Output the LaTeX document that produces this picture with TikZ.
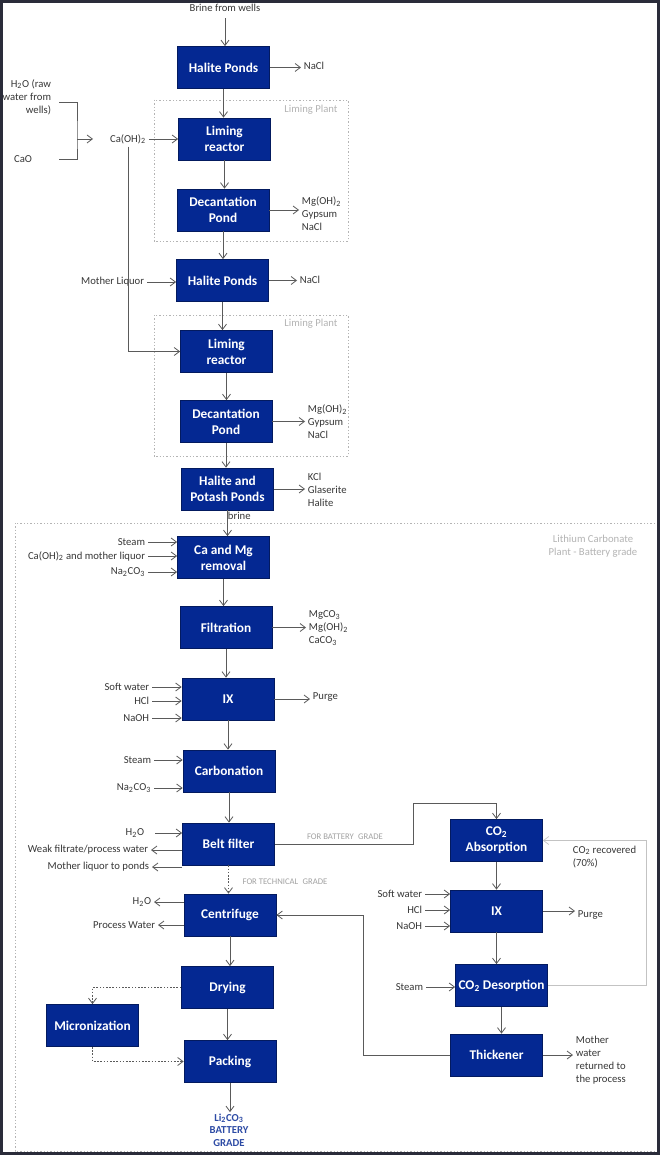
\documentclass[tikz,border=0pt]{standalone}
\usepackage{fontspec}
\setmainfont{Carlito}
\usetikzlibrary{arrows.meta}

\definecolor{unitblue}{RGB}{4,40,146}
\definecolor{linegray}{RGB}{90,90,90}
\definecolor{textgray}{RGB}{55,55,55}
\definecolor{plantgray}{RGB}{180,180,180}
\definecolor{framedark}{RGB}{42,44,58}
\definecolor{gradeblue}{RGB}{45,75,165}
\newcommand{\chemsub}[1]{\textsubscript{#1}}

\begin{document}
\begin{tikzpicture}[x=0.75pt,y=-0.75pt,>={Straight Barb[length=4pt,width=6pt]},
  unit/.style={draw=unitblue!65!black,fill=unitblue,text=white,line width=0.6pt,
    font=\fontsize{10}{12}\selectfont\bfseries,align=center,
    minimum width=69pt,minimum height=31.5pt,inner sep=1pt},
  lbl/.style={text=textgray,font=\fontsize{8}{9.75}\selectfont,inner sep=2pt},
  note/.style={text=plantgray,font=\fontsize{8}{9.75}\selectfont,inner sep=0pt},
  grade/.style={text=plantgray!90!black,font=\fontsize{6.5}{8}\selectfont,inner sep=0pt},
  flow/.style={->,draw=linegray,line width=0.6pt},
  streams/.style={every edge/.style={draw,flow}},
  techflow/.style={flow,dash pattern=on 1.2pt off 1.2pt},
  loopflow/.style={->,draw=plantgray!80,line width=0.5pt},
  plant/.style={draw=plantgray,line width=0.5pt,dash pattern=on 1pt off 1.5pt}]

  \useasboundingbox (0,0) rectangle (660,1155);
  \fill[white] (0,0) rectangle (660,1155);

  % plant frames
  \draw[plant] (154,100) rectangle (348,241);
  \draw[plant] (154,315) rectangle (348,456);
  \draw[plant] (15,523) rectangle (657,1151);
  \node[note] (limplantA) at (311,110) {Liming Plant};
  \node[note] (limplantB) at (311,324) {Liming Plant};
  \node[note,align=center] (licoplant) at (593,546) {Lithium Carbonate\\Plant - Battery grade};

  % main column
  \node[unit] (haliteA) at (223.5,67.5) {Halite Ponds};
  \node[unit] (limingA) at (224.5,139) {Liming\\reactor};
  \node[unit] (decantA) at (223,210) {Decantation\\Pond};
  \node[unit] (haliteB) at (222.5,280.5) {Halite Ponds};
  \node[unit] (limingB) at (226.5,351.5) {Liming\\reactor};
  \node[unit] (decantB) at (226,421.5) {Decantation\\Pond};
  \node[unit] (potash) at (227.5,489) {Halite and\\Potash Ponds};
  \node[unit] (camg) at (223.5,557.5) {Ca and Mg\\removal};
  \node[unit] (filtr) at (226,627.5) {Filtration};
  \node[unit] (ixA) at (228,699) {IX};
  \node[unit] (carbon) at (229,771) {Carbonation};
  \node[unit] (belt) at (228.5,844) {Belt filter};
  \node[unit] (centr) at (230,915) {Centrifuge};
  \node[unit] (dry) at (227.5,987.5) {Drying};
  \node[unit] (micro) at (92.5,1025.5) {Micronization};
  \node[unit] (pack) at (230,1061.5) {Packing};

  % battery grade column
  \node[unit] (absorb) at (496.5,840.5) {CO\chemsub{2}\\Absorption};
  \node[unit] (ixB) at (496.5,911) {IX};
  \node[unit] (desorb) at (501.5,985.5) {CO\chemsub{2} Desorption};
  \node[unit] (thick) at (496.5,1055) {Thickener};

  % streams in and out
  \node[lbl] (wells) at (225,7.5) {Brine from wells};
  \node[lbl,anchor=west] (naclA) at (301,66) {NaCl};
  \node[lbl,anchor=east,align=right] (rawwater) at (54,97) {H\chemsub{2}O (raw\\water from\\wells)};
  \node[lbl] (cao) at (23,159) {CaO};
  \node[lbl] (caoh) at (128,139) {Ca(OH)\chemsub{2}};
  \node[lbl,anchor=west,align=left] (residA) at (299,214) {Mg(OH)\chemsub{2}\\Gypsum\\NaCl};
  \node[lbl,anchor=east] (mliq) at (147,282) {Mother Liquor};
  \node[lbl,anchor=west] (naclB) at (297,280) {NaCl};
  \node[lbl,anchor=west,align=left] (residB) at (305,422) {Mg(OH)\chemsub{2}\\Gypsum\\NaCl};
  \node[lbl,anchor=west,align=left] (salts) at (305,489.5) {KCl\\Glaserite\\Halite};
  \node[lbl,anchor=west] (brinelbl) at (225,516) {brine};

  \node[lbl,anchor=east] (steamA) at (148,542) {Steam};
  \node[lbl,anchor=east] (mixA) at (148,556) {Ca(OH)\chemsub{2} and mother liquor};
  \node[lbl,anchor=east] (sodaA) at (148,572) {Na\chemsub{2}CO\chemsub{3}};
  \node[lbl,anchor=west,align=left] (cake) at (306,628) {MgCO\chemsub{3}\\Mg(OH)\chemsub{2}\\CaCO\chemsub{3}};
  \node[lbl,anchor=east] (softA) at (152,687) {Soft water};
  \node[lbl,anchor=east] (hclA) at (152,701) {HCl};
  \node[lbl,anchor=east] (naohA) at (152,718) {NaOH};
  \node[lbl,anchor=west] (purgeA) at (310,697) {Purge};
  \node[lbl,anchor=east] (steamB) at (154,760) {Steam};
  \node[lbl,anchor=east] (sodaB) at (154,788) {Na\chemsub{2}CO\chemsub{3}};
  \node[lbl,anchor=east] (h2oA) at (147,833) {H\chemsub{2}O};
  \node[lbl,anchor=east] (weak) at (151,850) {Weak filtrate/process water};
  \node[lbl,anchor=east] (mlpond) at (152,867) {Mother liquor to ponds};
  \node[lbl,anchor=east] (h2oB) at (154,902) {H\chemsub{2}O};
  \node[lbl,anchor=east] (pwater) at (158,925) {Process Water};
  \node[font=\fontsize{8}{9.4}\selectfont\bfseries,text=gradeblue,align=center,inner sep=1pt]
    (product) at (229,1130) {Li\chemsub{2}CO\chemsub{3}\\BATTERY\\GRADE};

  \node[lbl,anchor=east] (softB) at (425,894) {Soft water};
  \node[lbl,anchor=east] (hclB) at (425,910) {HCl};
  \node[lbl,anchor=east] (naohB) at (425,926) {NaOH};
  \node[lbl,anchor=west] (purgeB) at (575,915) {Purge};
  \node[lbl,anchor=east] (steamC) at (426,987) {Steam};
  \node[lbl,anchor=north west,align=left] (co2rec) at (570,843) {CO\chemsub{2} recovered\\(70\%)};
  \node[lbl,anchor=west,align=left] (motherw) at (573,1060) {Mother\\water\\returned to\\the process};

  \node[grade] (battlbl) at (345,837) {FOR BATTERY\enspace GRADE};
  \node[grade] (techlbl) at (285,882) {FOR TECHNICAL\enspace GRADE};

  % lime preparation
  \coordinate (brkA) at (59,102);
  \coordinate (brkB) at (59,159);
  \coordinate (brkM) at (77,139);
  \coordinate (brkTip) at (93,139);
  \draw[linegray,line width=0.6pt] (brkA) -| (brkM) |- (brkB);
  \draw[flow] (brkM) -- (brkTip);
  \draw[flow] (caoh.east) -- (limingA.west |- caoh.east);
  \draw[flow] (caoh.south) |- (limingB.west);

  % main line
  \draw[flow,shorten <=3pt] (wells.south) -- (wells.south |- haliteA.north);
  \path[streams]
    (haliteA.south) edge (haliteA.south |- limingA.north)
    (limingA.south) edge (limingA.south |- decantA.north)
    (decantA.south) edge (decantA.south |- haliteB.north)
    (haliteB.south) edge (haliteB.south |- limingB.north)
    (limingB.south) edge (limingB.south |- decantB.north)
    (decantB.south) edge (decantB.south |- potash.north)
    (potash.south) edge (potash.south |- camg.north)
    (camg.south) edge (camg.south |- filtr.north)
    (filtr.south) edge (filtr.south |- ixA.north)
    (ixA.south) edge (ixA.south |- carbon.north)
    (carbon.south) edge (carbon.south |- belt.north)
    (centr.south) edge (centr.south |- dry.north)
    (dry.south) edge (dry.south |- pack.north)
    (pack.south) edge (pack.south |- product.north);

  % side streams
  \path[streams]
    (haliteA.east) edge (naclA.west |- haliteA.east)
    (decantA.east) edge (residA.west |- decantA.east)
    (mliq.east) edge (haliteB.west |- mliq.east)
    (haliteB.east) edge (naclB.west |- haliteB.east)
    (decantB.east) edge (residB.west |- decantB.east)
    (potash.east) edge (salts.west |- potash.east)
    (steamA.east) edge (camg.west |- steamA.east)
    (mixA.east) edge (camg.west |- mixA.east)
    (sodaA.east) edge (camg.west |- sodaA.east)
    (filtr.east) edge (cake.west |- filtr.east)
    (softA.east) edge (ixA.west |- softA.east)
    (hclA.east) edge (ixA.west |- hclA.east)
    (naohA.east) edge (ixA.west |- naohA.east)
    (ixA.east) edge (purgeA.west |- ixA.east)
    (steamB.east) edge (carbon.west |- steamB.east)
    (sodaB.east) edge (carbon.west |- sodaB.east)
    (belt.west |- weak.east) edge (weak.east)
    (belt.west |- mlpond.east) edge (mlpond.east)
    (centr.west |- h2oB.east) edge (h2oB.east)
    (centr.west |- pwater.east) edge (pwater.east);
  \draw[flow,shorten <=6pt] (h2oA.east) -- (belt.west |- h2oA.east);

  % battery grade route
  \coordinate (battTurn) at (413,803);
  \draw[flow] (belt.east) -| (battTurn) -| (absorb.north);
  \draw[techflow] (belt.south) -- (belt.south |- centr.north);
  \path[streams]
    (absorb.south) edge (absorb.south |- ixB.north)
    (ixB.south) edge (ixB.south |- desorb.north)
    (desorb.south) edge (desorb.south |- thick.north)
    (softB.east) edge (ixB.west |- softB.east)
    (hclB.east) edge (ixB.west |- hclB.east)
    (naohB.east) edge (ixB.west |- naohB.east)
    (ixB.east) edge (purgeB.west |- ixB.east)
    (steamC.east) edge (desorb.west |- steamC.east)
    (thick.east) edge (motherw.west |- thick.east);
  \coordinate (recTurn) at (646,985.5);
  \draw[loopflow] (desorb.east) -- (recTurn) |- (absorb.east);
  \coordinate (retTurn) at (363,1055);
  \draw[flow] (thick.west) -- (retTurn) |- (centr.east);

  % micronization by-pass
  \draw[techflow] (dry.west) -| (micro.north);
  \draw[techflow] (micro.south) |- (pack.west);

  % outer frame
  \draw[framedark,line width=1.9pt] (1.25,1.25) rectangle (658.75,1153.75);
\end{tikzpicture}
\end{document}
